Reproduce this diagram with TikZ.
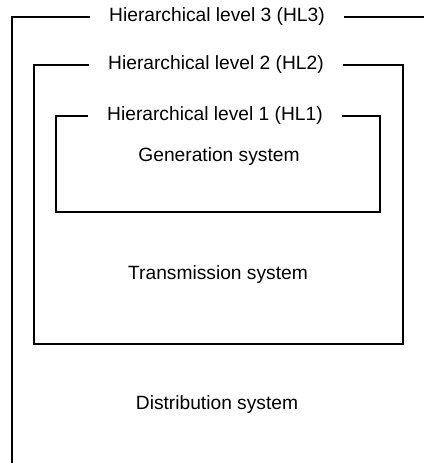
\documentclass[tikz,border=0pt]{standalone}
\usepackage{fontspec}
\setmainfont{Liberation Sans}
\usetikzlibrary{positioning}

\begin{document}
\begin{tikzpicture}[x=0.5pt,y=-0.5pt,line width=1pt,
  every node/.style={font=\fontsize{9.6}{11}\selectfont},
  leveltitle/.style={inner xsep=9pt,inner ysep=0pt}]
  \useasboundingbox (0,0) rectangle (424,463);
  % level 3 (outer, open to the right and bottom)
  \node[leveltitle] (hl3) at (217,17) {Hierarchical level 3 (HL3)};
  \coordinate (hl3nw) at (12,17);
  \coordinate (hl3sw) at (12,463);
  \coordinate (hl3ne) at (424,17);
  \draw (hl3.west) -- (hl3nw) -- (hl3sw);
  \draw (hl3.east) -- (hl3ne);
  % level 2
  \node[leveltitle] (hl2) at (216,65) {Hierarchical level 2 (HL2)};
  \coordinate (hl2nw) at (34,65);
  \coordinate (hl2sw) at (34,344);
  \coordinate (hl2se) at (403,344);
  \coordinate (hl2ne) at (403,65);
  \draw (hl2.west) -- (hl2nw) -- (hl2sw) -- (hl2se) -- (hl2ne) -- (hl2.east);
  % level 1
  \node[leveltitle] (hl1) at (215,116) {Hierarchical level 1 (HL1)};
  \coordinate (hl1nw) at (56,116);
  \coordinate (hl1sw) at (56,212);
  \coordinate (hl1se) at (380,212);
  \coordinate (hl1ne) at (380,116);
  \draw (hl1.west) -- (hl1nw) -- (hl1sw) -- (hl1se) -- (hl1ne) -- (hl1.east);
  % systems
  \node (gen) at (219,157) {Generation system};
  \node (trans) at (218,275) {Transmission system};
  \node (dist) at (217,405) {Distribution system};
\end{tikzpicture}
\end{document}
